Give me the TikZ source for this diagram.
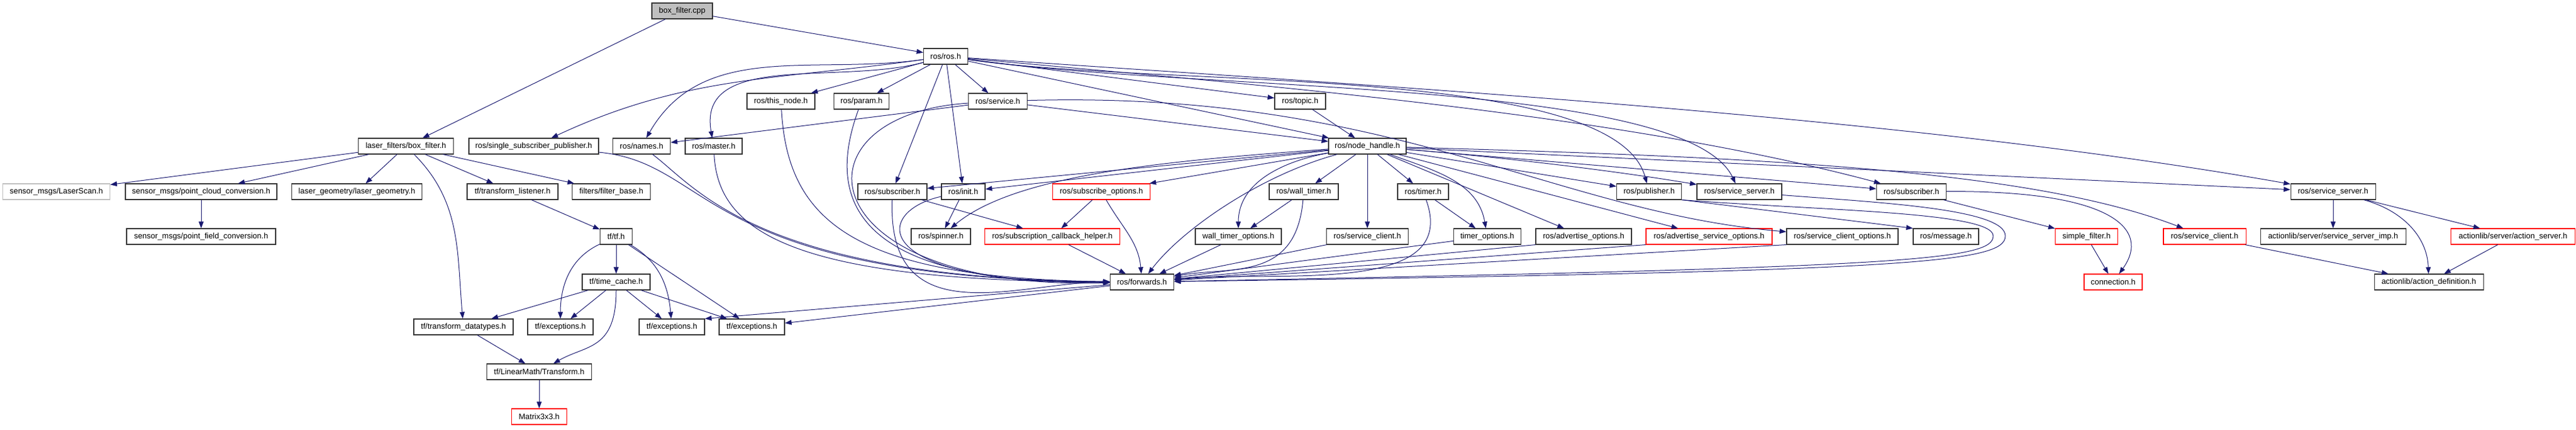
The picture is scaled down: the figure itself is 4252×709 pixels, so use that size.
\documentclass[tikz,border=0pt]{standalone}
\usepackage{fontspec}
\setmainfont{Liberation Sans}
\usepackage{tikz}
\usetikzlibrary{arrows.meta}
\definecolor{edgeblue}{RGB}{25,25,112}
\tikzset{>={Triangle[length=11pt,width=8pt]}}
\tikzset{hfile/.style = {shape=rectangle,draw=black!80,line width=1.1pt,fill=white,minimum height=26pt,inner xsep=2pt,inner ysep=0pt,font=\fontsize{13}{15}\selectfont},
  hmiss/.style = {hfile,draw=red},
  hext/.style = {hfile,draw=black!25},
  hcur/.style = {hfile,fill=black!25},
  wd/.style = {minimum width=#1pt},
  dep/.style = {->,draw=edgeblue,line width=1pt}}

\begin{document}
\begin{tikzpicture}[x=1pt,y=1pt]
                \useasboundingbox (0,0) rectangle (4252,709);

                \node[hcur,wd=100] (cpp) at (1126,691) {box\_filter.cpp};
                \node[hfile,wd=73] (rosh) at (1561,616) {ros/ros.h};
                \node[hfile,wd=112] (thisnode) at (1289,542) {ros/this\_node.h};
                \node[hfile,wd=91] (param) at (1422,542) {ros/param.h};
                \node[hfile,wd=97] (service) at (1647,542) {ros/service.h};
                \node[hfile,wd=84] (topic) at (2146,542) {ros/topic.h};
                \node[hfile,wd=157] (bfh) at (670,468) {laser\_filters/box\_filter.h};
                \node[hfile,wd=214] (ssp) at (881,468) {ros/single\_subscriber\_publisher.h};
                \node[hfile,wd=95] (names) at (1059,468) {ros/names.h};
                \node[hfile,wd=94] (master) at (1178,468) {ros/master.h};
                \node[hfile,wd=128] (nh) at (2257,468) {ros/node\_handle.h};
                \node[hext,wd=177] (scan) at (93,393) {sensor\_msgs/LaserScan.h};
                \node[hfile,wd=250] (pcc) at (332,393) {sensor\_msgs/point\_cloud\_conversion.h};
                \node[hfile,wd=215] (lg) at (589,393) {laser\_geometry/laser\_geometry.h};
                \node[hfile,wd=150] (tl) at (846,393) {tf/transform\_listener.h};
                \node[hfile,wd=129] (fb) at (1009,393) {filters/filter\_base.h};
                \node[hfile,wd=114] (sub1) at (1473,393) {ros/subscriber.h};
                \node[hfile,wd=72] (init) at (1590,393) {ros/init.h};
                \node[hmiss,wd=161] (subopt) at (1818,393) {ros/subscribe\_options.h};
                \node[hfile,wd=114] (wt) at (2152,393) {ros/wall\_timer.h};
                \node[hfile,wd=84] (timer) at (2349,393) {ros/timer.h};
                \node[hfile,wd=107] (pub) at (2722,393) {ros/publisher.h};
                \node[hfile,wd=140] (ss1) at (2871,393) {ros/service\_server.h};
                \node[hfile,wd=115] (sub2) at (3155,393) {ros/subscriber.h};
                \node[hfile,wd=140] (ss2) at (3851,393) {ros/service\_server.h};
                \node[hfile,wd=246] (pfc) at (332,319) {sensor\_msgs/point\_field\_conversion.h};
                \node[hfile,wd=53] (tf) at (1017,319) {tf/tf.h};
                \node[hfile,wd=98] (spinner) at (1553,319) {ros/spinner.h};
                \node[hmiss,wd=223] (sch) at (1737,319) {ros/subscription\_callback\_helper.h};
                \node[hfile,wd=142] (wto) at (2044,319) {wall\_timer\_options.h};
                \node[hfile,wd=135] (sc) at (2257,319) {ros/service\_client.h};
                \node[hfile,wd=111] (to) at (2455,319) {timer\_options.h};
                \node[hfile,wd=158] (ao) at (2614,319) {ros/advertise\_options.h};
                \node[hmiss,wd=208] (aso) at (2821,319) {ros/advertise\_service\_options.h};
                \node[hfile,wd=184] (sco) at (3041,319) {ros/service\_client\_options.h};
                \node[hfile,wd=108] (msg) at (3212,319) {ros/message.h};
                \node[hmiss,wd=103] (sf) at (3444,319) {simple\_filter.h};
                \node[hmiss,wd=136] (sc2) at (3639,319) {ros/service\_client.h};
                \node[hfile,wd=240] (ssi) at (3851,319) {actionlib/server/service\_server\_imp.h};
                \node[hmiss,wd=205] (as) at (4148,319) {actionlib/server/action\_server.h};
                \node[hfile,wd=112] (tc) at (1017,244) {tf/time\_cache.h};
                \node[hfile,wd=105] (fwd) at (1885,244) {ros/forwards.h};
                \node[hmiss,wd=96] (conn) at (3488,244) {connection.h};
                \node[hfile,wd=180] (ad) at (4009,244) {actionlib/action\_definition.h};
                \node[hfile,wd=164] (td) at (765,170) {tf/transform\_datatypes.h};
                \node[hfile,wd=108] (ex1) at (925,170) {tf/exceptions.h};
                \node[hfile,wd=108] (ex2) at (1109,170) {tf/exceptions.h};
                \node[hfile,wd=108] (ex3) at (1241,170) {tf/exceptions.h};
                \node[hfile,wd=173] (lmt) at (890,96) {tf/LinearMath/Transform.h};
                \node[hmiss,wd=91] (m33) at (890,22) {Matrix3x3.h};
                \coordinate (pubturn) at (3290,320);
                \coordinate (ssturn) at (3310,320);

                \draw[dep] (cpp) -- (bfh);
                \draw[dep] (cpp) -- (rosh);
                \draw[dep] (bfh) -- (scan);
                \draw[dep] (bfh) -- (pcc);
                \draw[dep] (bfh) -- (lg);
                \draw[dep] (bfh) -- (tl);
                \draw[dep] (bfh) -- (fb);
                \draw[dep] (bfh) to[out=-45,in=95] (td);
                \draw[dep] (pcc) -- (pfc);
                \draw[dep] (tl) -- (tf);
                \draw[dep] (tf) -- (tc);
                \draw[dep] (tf) to[out=-155,in=90] (ex1);
                \draw[dep] (tf) to[out=-30,in=95] (ex2);
                \draw[dep] (tf) -- (ex3);
                \draw[dep] (tc) -- (td);
                \draw[dep] (tc) -- (ex1);
                \draw[dep] (tc) -- (ex2);
                \draw[dep] (tc) -- (ex3);
                \draw[dep] (tc) to[out=-90,in=30,out looseness=1.6] (lmt);
                \draw[dep] (td) -- (lmt);
                \draw[dep] (lmt) -- (m33);
                \draw[dep] (fwd) -- (ex2.north east);
                \draw[dep] (fwd) -- (ex3);

                \draw[dep] (rosh) to[out=188,in=25] (ssp);
                \draw[dep] (rosh) to[out=188,in=60] (names);
                \draw[dep] (rosh) to[out=195,in=100] (master);
                \draw[dep] (rosh) -- (thisnode);
                \draw[dep] (rosh) -- (param);
                \draw[dep] (rosh) -- (service);
                \draw[dep] (rosh) -- (topic);
                \draw[dep] (rosh) -- (nh);
                \draw[dep] (rosh) -- (sub1);
                \draw[dep] (rosh) -- (init);
                \draw[dep] (rosh) .. controls (1936,563) and (2665,604) .. (pub);
                \draw[dep] (rosh) .. controls (1978,557) and (2783,580) .. (ss1);
                \draw[dep] (rosh) .. controls (2052,571) and (2665,524) .. (sub2);
                \draw[dep] (rosh) .. controls (2254,568) and (3133,520) .. (ss2);

                \draw[dep] (service) -- (names);
                \draw[dep] (service) -- (nh);
                \draw[dep] (service) .. controls (2300,560) and (2560,360) .. (sco);
                \draw[dep] (service) .. controls (1300,520) and (1330,230) .. (fwd);
                \draw[dep] (topic) -- (nh);
                \draw[dep] (ssp) .. controls (1180,440) and (1150,250) .. (fwd);
                \draw[dep] (names) .. controls (1150,400) and (1250,250) .. (fwd);
                \draw[dep] (master) .. controls (1185,330) and (1300,245) .. (fwd);
                \draw[dep] (thisnode) .. controls (1300,350) and (1400,250) .. (fwd);
                \draw[dep] (param) .. controls (1370,400) and (1380,240) .. (fwd);

                \draw[dep] (nh) -- (sub1);
                \draw[dep] (nh) -- (init);
                \draw[dep] (nh) .. controls (1950,445) and (1680,425) .. (spinner);
                \draw[dep] (nh) -- (subopt);
                \draw[dep] (nh) -- (wt);
                \draw[dep] (nh) to[out=190,in=90] (wto);
                \draw[dep] (nh) -- (sc);
                \draw[dep] (nh) -- (timer);
                \draw[dep] (nh) to[out=-20,in=100] (to);
                \draw[dep] (nh) -- (ao);
                \draw[dep] (nh) -- (aso);
                \draw[dep] (nh) -- (pub);
                \draw[dep] (nh) .. controls (2500,448) and (2680,425) .. (ss1);
                \draw[dep] (nh) -- (sub2);
                \draw[dep] (nh) -- (ss2);
                \draw[dep] (nh) .. controls (2900,450) and (3350,430) .. (sc2);
                \draw[dep] (nh) .. controls (2080,420) and (1950,330) .. (fwd);

                \draw[dep] (sub1) to[out=-92,in=180,out looseness=1.5] (fwd);
                \draw[dep] (sub1) -- (sch);
                \draw[dep] (init) .. controls (1440,360) and (1430,240) .. (fwd);
                \draw[dep] (init) -- (spinner);
                \draw[dep] (subopt) -- (sch);
                \draw[dep] (subopt) to[out=-60,in=95] (fwd);
                \draw[dep] (sch) -- (fwd);
                \draw[dep] (wt) -- (wto);
                \draw[dep] (wt) to[out=-95,in=10,out looseness=1.4] (fwd);
                \draw[dep] (wto) -- (fwd);
                \draw[dep] (timer) -- (to);
                \draw[dep] (timer) to[out=-70,in=5] (fwd);
                \draw[dep] (sc) -- (fwd);
                \draw[dep] (to) -- (fwd);
                \draw[dep] (ao.south west) -- (fwd);
                \draw[dep] (aso.south west) -- (fwd);
                \draw[dep] (sco.south west) -- (fwd);
                \draw[dep] (pub.south east) -- (msg.north west);
                \draw[dep] (pub.south east) .. controls (3000,362) and (3290,360) .. (pubturn) .. controls (3290,280) and (3150,268) .. (fwd);
                \draw[dep] (ss1) .. controls (3100,375) and (3310,365) .. (ssturn) .. controls (3310,275) and (3150,262) .. (fwd);

                \draw[dep] (sub2) -- (sf);
                \draw[dep] (sub2) .. controls (3490,395) and (3550,330) .. (conn);
                \draw[dep] (sf) -- (conn);
                \draw[dep] (sc2) -- (ad);
                \draw[dep] (ss2) -- (ssi);
                \draw[dep] (ss2) to[out=-15,in=92] (ad);
                \draw[dep] (ss2) -- (as);
                \draw[dep] (as) -- (ad);
            \end{tikzpicture}
\end{document}
